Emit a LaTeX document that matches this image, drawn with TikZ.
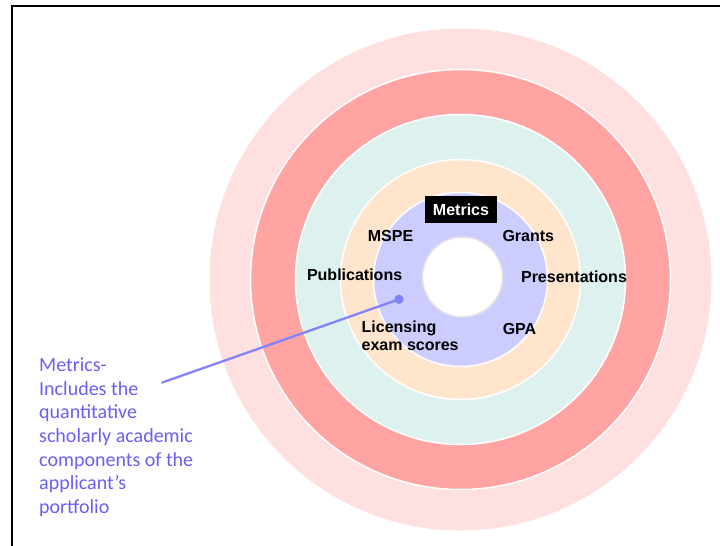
\documentclass[tikz,border=0pt]{standalone}
\usepackage{fontspec}
\setmainfont{Liberation Sans}
\newfontfamily\calloutfont{Carlito}
\definecolor{ringA}{HTML}{FFE0E0}
\definecolor{ringB}{HTML}{FFA3A3}
\definecolor{ringC}{HTML}{DDF1EE}
\definecolor{ringD}{HTML}{FFE5CC}
\definecolor{ringE}{HTML}{CCCCFF}
\definecolor{coreedge}{HTML}{E4E4E4}
\definecolor{callouttext}{HTML}{6A5EF6}
\definecolor{calloutline}{HTML}{8282FF}
\begin{document}
\begin{tikzpicture}[x=1pt,y=-1pt,
  ring/.style={draw=white,line width=1.5pt},
  lbl/.style={inner sep=0pt,anchor=base,font=\fontsize{16}{18}\selectfont\bfseries},
  lblleft/.style={inner sep=0pt,anchor=base west,font=\fontsize{16}{18}\selectfont\bfseries},
  frameline/.style={line width=2pt,black}]
\useasboundingbox (0,0) rectangle (720,546);
% frame
\coordinate (fTL) at (11.5,5.5);
\coordinate (fTR) at (721,5.5);
\coordinate (fBL) at (11.5,547);
\draw[frameline] (fBL) -- (fTL) -- (fTR);
% rings
\coordinate (c) at (460.5,279.5);
\fill[ringA] (c) circle[radius=251pt];
\filldraw[ring,fill=ringB] (c) circle[radius=210pt];
\filldraw[ring,fill=ringC] (c) circle[radius=165pt];
\filldraw[ring,fill=ringD] (c) circle[radius=120pt];
\filldraw[ring,fill=ringE] (c) circle[radius=87pt];
\filldraw[draw=coreedge,line width=1.5pt,fill=white] (462.5,277) circle[radius=40pt];
% title box
\node[fill=black,text=white,inner sep=0pt,minimum width=72pt,minimum height=27pt,
      font=\fontsize{16}{18}\selectfont\bfseries] (metrics) at (461,209.5) {Metrics};
% labels
\node[lbl] (mspe) at (390.5,241) {MSPE};
\node[lbl] (grants) at (528.3,241.5) {Grants};
\node[lbl] (pubs) at (354.6,280.5) {Publications};
\node[lbl] (pres) at (574,282.3) {Presentations};
\node[lbl] (gpa) at (519.5,334) {GPA};
\node[lblleft] (lic) at (361.5,332.3) {\fontsize{16}{18}\selectfont\begin{tabular}[t]{@{}l@{}}Licensing\\exam scores\end{tabular}};
% callout
\node[inner sep=0pt,anchor=base west,text=callouttext] (callout) at (39,371.7)
  {\calloutfont\fontsize{20}{23.6}\selectfont\begin{tabular}[t]{@{}l@{}}Metrics-\\Includes the\\quantitative\\scholarly academic\\components of the\\applicant’s\\portfolio\end{tabular}};
\coordinate (lineend) at (161.7,382.7);
\node[circle,fill=calloutline,inner sep=0pt,minimum size=9pt] (dot) at (399,299.3) {};
\draw[calloutline,line width=2.3pt] (lineend) -- (dot.center);
\node[circle,fill=calloutline,inner sep=0pt,minimum size=9pt] at (dot) {};
\end{tikzpicture}
\end{document}
